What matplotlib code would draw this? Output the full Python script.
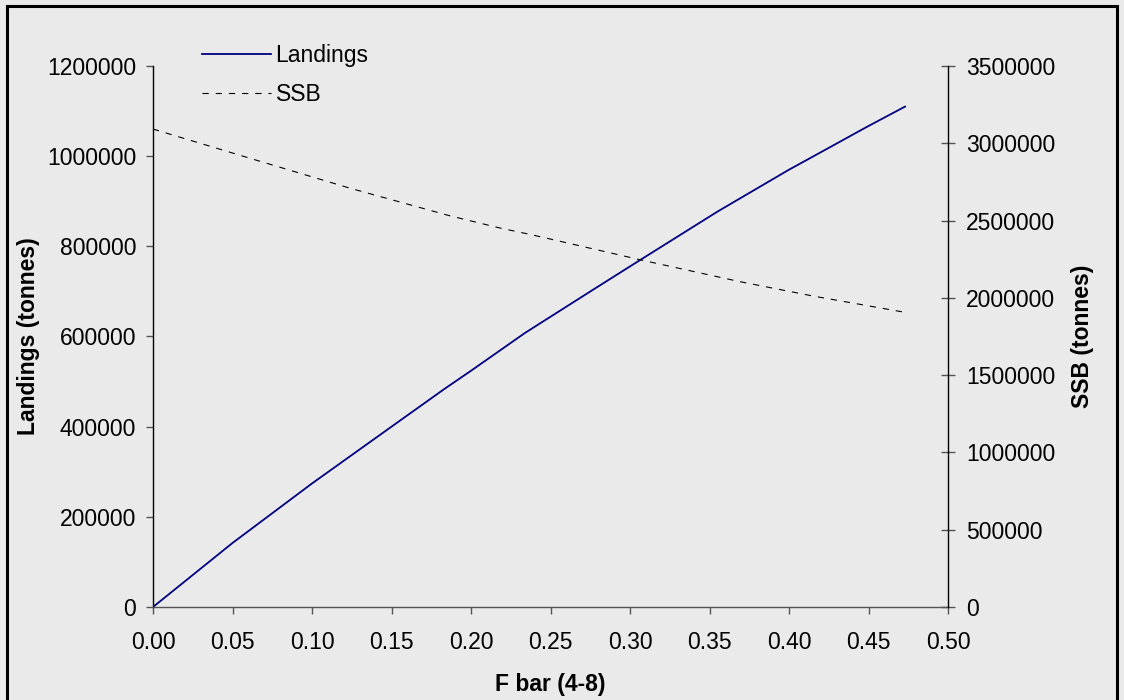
import matplotlib
matplotlib.use('Agg')
import matplotlib.pyplot as plt
from matplotlib.patches import Rectangle
from matplotlib.ticker import FuncFormatter

plt.rcParams['font.family'] = ['Liberation Sans', 'DejaVu Sans']
plt.rcParams['lines.scale_dashes'] = False

# Landings (left axis) vs F bar
f_land = [0.0, 0.05, 0.10, 0.15, 0.183, 0.20, 0.234, 0.28, 0.307, 0.355, 0.40, 0.415, 0.449, 0.473]
landings = [0, 142000, 274000, 400000, 483000, 524000, 608000, 711000, 771000, 877000,
            970000, 999000, 1065000, 1110000]

# SSB (right axis) vs F bar
f_ssb = [0.0, 0.061, 0.124, 0.187, 0.219, 0.237, 0.286, 0.307, 0.369, 0.415, 0.471]
ssb = [3092000, 2903000, 2709000, 2530000, 2450000, 2411000, 2295000, 2245000,
       2105000, 2012000, 1910000]

x_ticks = [0.00, 0.05, 0.10, 0.15, 0.20, 0.25, 0.30, 0.35, 0.40, 0.45, 0.50]
left_ticks = list(range(0, 1200001, 200000))
right_ticks = list(range(0, 3500001, 500000))

bg = '#eaeaea'
fs = 16.5

fig = plt.figure(figsize=(11.24, 7.0), dpi=100, facecolor=bg)
ax = fig.add_axes([153 / 1124, 93 / 700, 795 / 1124, 541 / 700])
ax.set_facecolor(bg)
ax2 = ax.twinx()

l1, = ax.plot(f_land, landings, color='#000080', lw=1.3, label='Landings')
l2, = ax2.plot(f_ssb, ssb, color='black', lw=0.8, dashes=(4.5, 5.0), label='SSB')

ax.set_xlim(0, 0.5)
ax.set_ylim(0, 1200000)
ax2.set_ylim(0, 3500000)
ax.set_xticks(x_ticks)
ax.set_yticks(left_ticks)
ax2.set_yticks(right_ticks)
ax.xaxis.set_major_formatter(FuncFormatter(lambda v, p: '%.2f' % v))
ax.yaxis.set_major_formatter(FuncFormatter(lambda v, p: '%d' % v))
ax2.yaxis.set_major_formatter(FuncFormatter(lambda v, p: '%d' % v))

for a in (ax, ax2):
    a.spines['top'].set_visible(False)
ax.spines['right'].set_visible(False)
ax2.spines['left'].set_visible(False)
ax2.spines['bottom'].set_visible(False)
ax.spines['left'].set_color('black')
ax.spines['bottom'].set_color('#555555')
ax2.spines['right'].set_color('black')
for s in (ax.spines['left'], ax.spines['bottom'], ax2.spines['right']):
    s.set_linewidth(1.0)

ax.tick_params(axis='x', direction='out', length=5, width=1, color='#555555',
               labelsize=fs, pad=12)
ax.tick_params(axis='y', direction='out', length=5, width=1, color='#555555',
               labelsize=fs, pad=7)
ax2.tick_params(axis='y', direction='inout', length=10, width=1, color='#555555',
                labelsize=fs, pad=8)

ax.set_xlabel('F bar (4-8)', fontsize=fs, fontweight='bold', va='center')
ax.xaxis.set_label_coords(0.5, -0.144)
ax.set_ylabel('Landings (tonnes)', fontsize=fs, fontweight='bold', va='center')
ax.yaxis.set_label_coords(-0.157, 0.5)
ax2.set_ylabel('SSB (tonnes)', fontsize=fs, fontweight='bold', va='center',
               rotation=90)
ax2.yaxis.set_label_coords(1.169, 0.5)

leg = fig.legend([l1, l2], ['Landings', 'SSB'], loc='upper left',
                 bbox_to_anchor=(193 / 1124, 1 - 35 / 700), frameon=False,
                 fontsize=fs, handlelength=3.0, handletextpad=0.2,
                 labelspacing=0.7, borderaxespad=0)

fig.patches.append(Rectangle((7 / 1124, -0.01), 1110 / 1124, 1 - 6 / 700 + 0.01,
                             transform=fig.transFigure, fill=False,
                             edgecolor='black', lw=2.2))

fig.savefig('out.png', dpi=100, facecolor=bg)
